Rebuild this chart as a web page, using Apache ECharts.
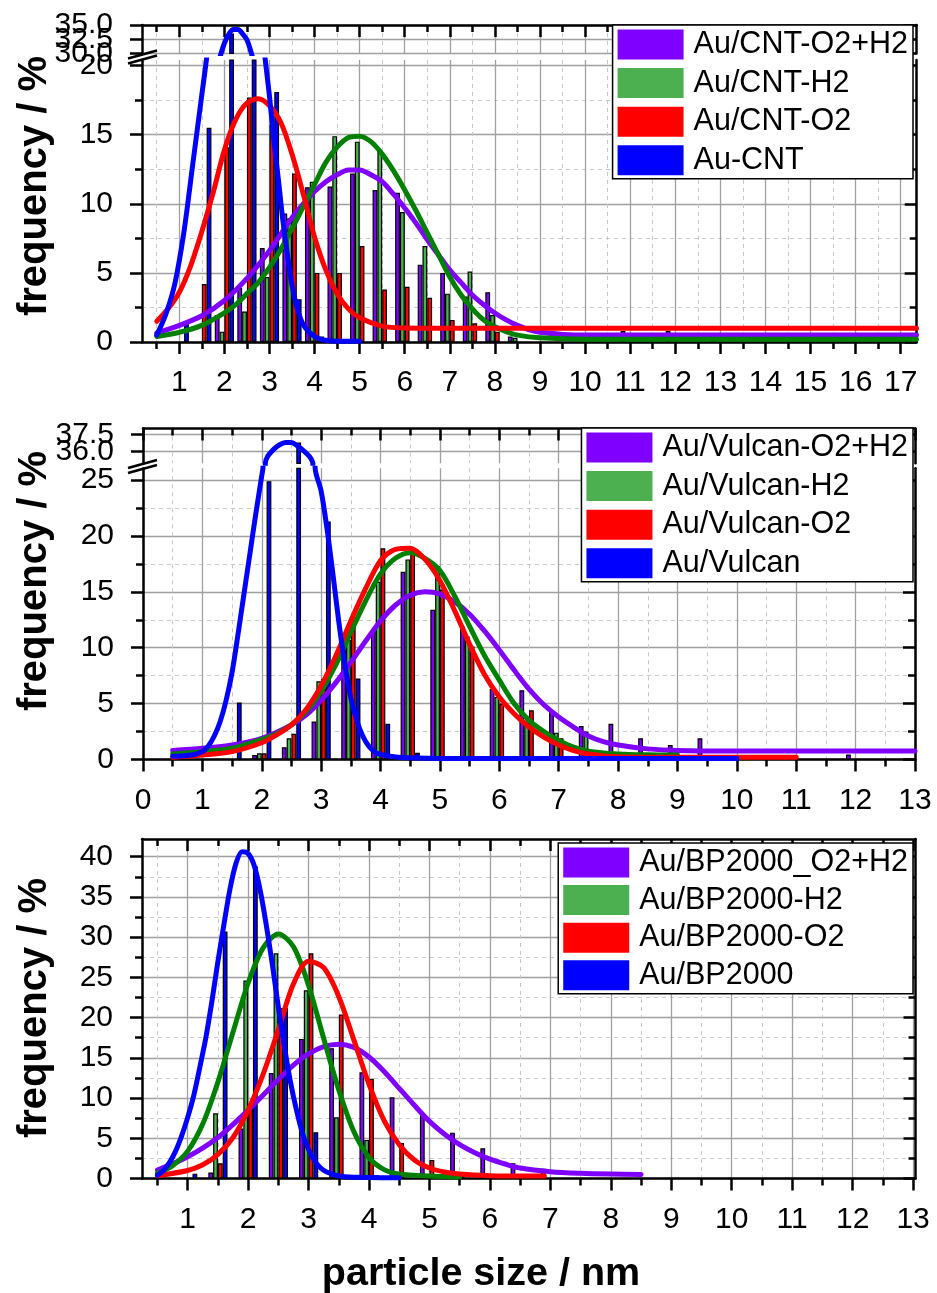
<!DOCTYPE html>
<html><head><meta charset="utf-8">
<script src="https://cdn.jsdelivr.net/npm/echarts@6/dist/echarts.min.js"></script>
<style>html,body{margin:0;padding:0;background:#fff}#c{width:937px;height:1293px}</style>
</head><body><div id="c"></div>
<script>
const FONT = "'Liberation Sans', Arial, sans-serif";
const C_PURPLE = '#7F00FF', C_GREEN_BAR = '#4CAF50', C_GREEN_LINE = '#008000', C_RED = '#FF0000', C_BLUE = '#0000FF';

// ---------------- DATA ----------------
// Panel 1 (CNT)
const namesTop = ['Au/CNT-O2+H2', 'Au/CNT-H2', 'Au/CNT-O2', 'Au-CNT'];
const binsTop = [1.0,1.5,2.0,2.5,3.0,3.5,4.0,4.5,5.0,5.5,6.0,6.5,7.0,7.5,8.0,8.5,9.0,9.5,10.0,10.5,11.0,11.5,12.0,12.5,13.0];
const purpleTopBars = [0,0,1.95,3.9,6.8,9.3,11.2,11.25,12.2,11.0,10.8,5.6,5.0,3.3,3.6,0.4,0,0,0,0,0.8,0,0.8,0,0.5];
const greenTopBars  = [0,0,0.75,2.2,4.7,8.95,11.6,14.9,14.5,13.9,9.4,6.95,3.5,5.1,1.95,0.3,0,0,0,0,0,0,0,0,0];
const redTopBars    = [0,4.2,14.1,17.7,15.7,12.2,5.0,5.0,6.95,3.8,4.0,3.2,1.6,1.35,0.75,0,0,0,0,0,0,0,0,0,0];
const blueTopBars   = [1.3,15.5,33.5,26,18.1,3.1,0.4,0,0,0,0,0,0,0,0,0,0,0,0,0,0,0,0,0,0];
const purpleTopFit = [[0.5,0.65],[1.0,1.2],[1.5,1.9],[2.0,3.0],[2.5,4.6],[3.0,6.6],[3.25,7.8],[3.5,9.0],[3.75,10.0],[4.0,10.9],[4.25,11.6],[4.5,12.1],[4.75,12.45],[5.0,12.45],[5.25,12.1],[5.5,11.6],[5.75,10.7],[6.0,9.7],[6.25,8.6],[6.5,7.4],[6.75,6.3],[7.0,5.2],[7.25,4.3],[7.5,3.4],[7.75,2.7],[8.0,2.1],[8.25,1.6],[8.5,1.2],[8.75,0.9],[9.0,0.7],[9.5,0.55],[10.0,0.5],[12.0,0.5],[14.0,0.5],[17.35,0.5]];
const greenTopFit  = [[0.5,0.4],[1.0,0.7],[1.5,1.2],[2.0,2.1],[2.25,2.7],[2.5,3.5],[2.75,4.3],[3.0,5.4],[3.25,6.7],[3.5,8.2],[3.75,9.8],[4.0,11.4],[4.25,13.0],[4.5,14.1],[4.75,14.8],[5.0,14.9],[5.25,14.5],[5.5,13.6],[5.75,12.4],[6.0,11.0],[6.25,9.5],[6.5,7.9],[6.75,6.3],[7.0,4.7],[7.25,3.4],[7.5,2.4],[7.75,1.6],[8.0,1.1],[8.25,0.75],[8.5,0.5],[9.0,0.3],[10.0,0.2],[12.0,0.2],[14.0,0.2],[17.35,0.2]];
const redTopFit    = [[0.5,1.5],[0.75,2.4],[1.0,3.6],[1.25,5.5],[1.5,8.0],[1.75,10.8],[2.0,13.9],[2.25,16.1],[2.5,17.3],[2.75,17.6],[3.0,17.1],[3.25,15.9],[3.5,13.6],[3.75,10.7],[4.0,7.6],[4.25,5.2],[4.5,3.5],[4.75,2.4],[5.0,1.75],[5.5,1.15],[6.0,1.02],[7.0,1.0],[9.0,1.0],[12.0,1.0],[17.35,1.0]];
const blueTopFit   = [[0.5,0.5],[0.7,2.0],[0.9,4.2],[1.1,7.9],[1.3,12.9],[1.5,17.9],[1.6,20.4],[1.7,23.5],[1.8,26.5],[1.9,29.3],[2.0,31.8],[2.1,33.4],[2.2,34.2],[2.3,34.2],[2.4,33.5],[2.5,32.4],[2.6,30.0],[2.7,27.0],[2.8,23.8],[2.9,20.6],[3.0,17.8],[3.1,14.5],[3.2,11.7],[3.3,8.7],[3.4,6.3],[3.5,4.1],[3.6,2.6],[3.7,1.6],[3.8,1.0],[4.0,0.4],[4.2,0.15],[4.6,0.05],[5.0,0.05]];
const xMajorTop = [1,2,3,4,5,6,7,8,9,10,11,12,13,14,15,16,17];
const xMinorTop = [0.5,1.5,2.5,3.5,4.5,5.5,6.5,7.5,8.5,9.5,10.5,11.5,12.5,13.5,14.5,15.5,16.5];
const yMajorTopLow = [0,5,10,15,20];
const yMinorTopLow = [2.5,7.5,12.5,17.5];
const yMajorTopUp = [30,32.5,35];

// Panel 2 (Vulcan)
const namesMid = ['Au/Vulcan-O2+H2', 'Au/Vulcan-H2', 'Au/Vulcan-O2', 'Au/Vulcan'];
const binsMid = [1.5,2.0,2.5,3.0,3.5,4.0,4.5,5.0,5.5,6.0,6.5,7.0,7.5,8.0,8.5,9.0,9.5,10.0,10.5,11.0,11.5,12.0];
const purpleMidBars = [0,0.4,1.1,3.4,10.7,11.5,16.8,13.4,11.9,6.3,6.2,4.4,3.0,3.2,1.9,1.3,1.9,0,0,0,0,0.45];
const greenMidBars  = [0,0.55,1.9,7.0,10.7,15.9,17.9,17.3,11.0,5.6,3.5,2.4,2.5,0.3,0,0,0,0,0,0,0,0];
const redMidBars    = [0,0.55,2.3,7.2,12.5,18.9,18.4,15.2,10.1,5.0,4.4,1.9,0,0,0,0,0,0,0,0,0,0];
const blueMidBars   = [5.1,24.9,36.8,21.3,7.25,3.2,0.6,0,0,0,0,0,0,0,0,0,0,0,0,0,0,0];
const purpleMidFit = [[0.5,0.8],[1.0,1.0],[1.5,1.3],[2.0,1.9],[2.5,3.1],[2.75,4.0],[3.0,5.3],[3.25,6.9],[3.5,8.7],[3.75,10.6],[4.0,12.4],[4.25,13.8],[4.5,14.7],[4.75,15.0],[5.0,14.8],[5.25,14.1],[5.5,13.0],[5.75,11.5],[6.0,9.8],[6.25,8.0],[6.5,6.3],[6.75,4.9],[7.0,3.8],[7.25,2.9],[7.5,2.1],[7.75,1.6],[8.0,1.3],[8.5,0.95],[9.0,0.8],[10.0,0.75],[11.5,0.75],[13.0,0.75]];
const greenMidFit  = [[0.5,0.5],[1.0,0.7],[1.5,1.0],[2.0,1.8],[2.25,2.3],[2.5,3.1],[2.75,4.3],[3.0,6.1],[3.25,8.5],[3.5,11.4],[3.75,14.2],[4.0,16.6],[4.25,18.0],[4.5,18.5],[4.75,18.0],[5.0,16.9],[5.25,14.6],[5.5,11.9],[5.75,9.3],[6.0,7.1],[6.25,5.0],[6.5,3.5],[6.75,2.5],[7.0,1.7],[7.25,1.1],[7.5,0.75],[8.0,0.5],[8.5,0.42],[9.0,0.4]];
const redMidFit    = [[0.5,0.2],[1.0,0.4],[1.5,0.7],[2.0,1.5],[2.25,2.2],[2.5,3.1],[2.75,4.5],[3.0,6.6],[3.25,9.3],[3.5,12.4],[3.75,15.3],[4.0,17.8],[4.25,18.8],[4.5,18.9],[4.75,17.9],[5.0,16.0],[5.25,13.3],[5.5,10.3],[5.75,7.6],[6.0,5.6],[6.25,4.1],[6.5,2.9],[6.75,2.0],[7.0,1.3],[7.25,0.8],[7.5,0.5],[8.0,0.25],[9.0,0.2],[10.0,0.2],[11.0,0.2]];
const blueMidFit   = [[0.5,0.3],[0.75,0.35],[1.0,0.7],[1.1,1.2],[1.2,2.1],[1.3,3.4],[1.4,5.3],[1.5,7.8],[1.6,11.2],[1.7,14.8],[1.8,18.4],[1.9,22.0],[2.0,25.4],[2.02,26.1],[2.06,35.0],[2.1,35.6],[2.2,36.2],[2.3,36.6],[2.4,36.8],[2.5,36.8],[2.6,36.5],[2.7,36.1],[2.8,35.6],[2.86,35.0],[2.9,26.0],[3.0,24.0],[3.1,20.6],[3.2,16.5],[3.3,12.2],[3.4,8.5],[3.5,5.5],[3.6,3.5],[3.7,2.1],[3.8,1.2],[3.9,0.7],[4.0,0.45],[4.3,0.2],[5.0,0.1],[7.5,0.1],[10.0,0.1]];
const xMajorMid = [0,1,2,3,4,5,6,7,8,9,10,11,12,13];
const xMinorMid = [0.5,1.5,2.5,3.5,4.5,5.5,6.5,7.5,8.5,9.5,10.5,11.5,12.5];
const yMajorMidLow = [0,5,10,15,20,25];
const yMinorMidLow = [2.5,7.5,12.5,17.5,22.5];
const yMajorMidUp = [36,37.5];

// Panel 3 (BP2000)
const namesBot = ['Au/BP2000_O2+H2', 'Au/BP2000-H2', 'Au/BP2000-O2', 'Au/BP2000'];
const binsBot = [1.0,1.5,2.0,2.5,3.0,3.5,4.0,4.5,5.0,5.5,6.0,6.5,7.0,7.5];
const purpleBotBars = [0,0.75,6.2,13.1,17.35,16.2,13.2,10.1,8.1,5.7,3.75,1.9,1.2,0];
const greenBotBars  = [0,8.1,24.6,28.0,23.4,7.6,4.8,0.3,0,0,0,0,0,0];
const redBotBars    = [0,1.9,8.9,21.2,28.0,20.4,12.4,4.4,2.3,0.3,0,0,0,0];
const blueBotBars   = [0.6,30.7,38.8,21.2,5.75,0,0.4,0,0,0,0,0,0,0];
const purpleBotFit = [[0.5,1.06],[1.0,2.7],[1.5,5.1],[2.0,8.5],[2.5,12.3],[2.75,14.1],[3.0,15.5],[3.25,16.4],[3.5,16.7],[3.75,16.3],[4.0,15.1],[4.25,13.3],[4.5,11.2],[4.75,9.1],[5.0,7.1],[5.25,5.5],[5.5,4.2],[5.75,3.2],[6.0,2.4],[6.25,1.8],[6.5,1.3],[7.0,0.85],[7.5,0.65],[8.0,0.55],[8.5,0.5]];
const greenBotFit  = [[0.5,0.65],[0.75,1.6],[1.0,3.4],[1.25,6.8],[1.5,12.0],[1.75,18.2],[2.0,24.3],[2.25,28.7],[2.5,30.4],[2.75,28.8],[3.0,24.0],[3.25,17.4],[3.5,11.0],[3.75,5.8],[4.0,2.6],[4.25,1.1],[4.5,0.55],[5.0,0.3],[5.5,0.2]];
const redBotFit    = [[0.5,0.35],[1.0,1.0],[1.25,1.7],[1.5,3.0],[1.75,5.1],[2.0,8.5],[2.25,13.0],[2.5,18.5],[2.75,24.2],[3.0,27.0],[3.25,26.2],[3.5,22.6],[3.75,17.2],[4.0,11.7],[4.25,7.2],[4.5,4.2],[4.75,2.3],[5.0,1.3],[5.25,0.8],[5.5,0.55],[6.0,0.35],[6.5,0.3],[6.9,0.3]];
const blueBotFit   = [[0.5,0.4],[0.6,1.0],[0.7,2.0],[0.8,3.4],[0.9,5.3],[1.0,7.6],[1.1,10.3],[1.2,13.8],[1.3,17.5],[1.4,22.0],[1.5,27.0],[1.6,31.6],[1.7,36.0],[1.8,39.2],[1.9,40.6],[2.0,40.4],[2.1,38.9],[2.2,35.8],[2.3,31.5],[2.4,26.6],[2.5,21.3],[2.6,16.4],[2.7,12.0],[2.8,8.5],[2.9,5.6],[3.0,3.6],[3.1,2.2],[3.2,1.3],[3.3,0.8],[3.5,0.3],[3.8,0.15],[4.2,0.1],[4.5,0.1]];
const xMajorBot = [1,2,3,4,5,6,7,8,9,10,11,12,13];
const xMinorBot = [0.5,1.5,2.5,3.5,4.5,5.5,6.5,7.5,8.5,9.5,10.5,11.5,12.5];
const yMajorBot = [0,5,10,15,20,25,30,35,40];
const yMinorBot = [2.5,7.5,12.5,17.5,22.5,27.5,32.5,37.5];

const yTitle = 'frequency / %';
const xTitle = 'particle size / nm';

// ---------------- LAYOUT ----------------
const grid = [
  {left: 142, right: 20.3, top: 25, height: 28.5},     // 0 top upper
  {left: 142, right: 20.3, top: 60, height: 282},      // 1 top lower
  {left: 143, right: 22, top: 428.5, height: 34.8},    // 2 mid upper
  {left: 143, right: 22, top: 468.3, height: 291.2},   // 3 mid lower
  {left: 142, right: 21.5, top: 839, height: 339.5}    // 4 bottom
];

const xAxis = [], yAxis = [];
const AX_W = 2.5;
function buildAxes(list, dim, gi, min, max, major, minor, o) {
  const near = dim === 'x' ? 'bottom' : 'left';
  const far = dim === 'x' ? 'top' : 'right';
  const common = {type: 'value', gridIndex: gi, min: min, max: max, silent: true};
  const line = s => ({show: s, onZero: false, lineStyle: {color: '#000', width: AX_W}});
  const tick = (s, inside, len, vals) => ({show: s, inside: inside, length: len, customValues: vals, lineStyle: {color: '#000', width: AX_W}});
  const lbl = (s, vals) => ({show: s, customValues: vals, formatter: o.fmt, margin: o.margin || 29,
      fontSize: 30, color: '#000', fontFamily: FONT, hideOverlap: false, showMinLabel: true, showMaxLabel: true});
  const first = list.length;
  list.push(Object.assign({}, common, {
    position: near,
    axisLine: line(o.near),
    axisTick: tick(o.near, false, 12, major),
    axisLabel: lbl(!!o.labels && !o.splitLabels, major),
    splitLine: {show: true, lineStyle: {color: '#A0A0A0', width: 1.3}}
  }));
  if (o.splitLabels) {
    // one label-only axis per value so that crowded labels are all kept
    major.forEach(v => list.push(Object.assign({}, common, {
      position: near, axisLine: line(false), axisTick: {show: false, customValues: [v]},
      axisLabel: lbl(true, [v]), splitLine: {show: false}
    })));
  }
  if (minor) list.push(Object.assign({}, common, {
    position: near,
    axisLine: line(false),
    axisTick: tick(o.near, false, 7, minor),
    axisLabel: {show: false, customValues: minor},
    splitLine: {show: true, lineStyle: {color: '#C8C8C8', width: 1, type: [4, 4]}}
  }));
  list.push(Object.assign({}, common, {
    position: far,
    axisLine: line(o.far),
    axisTick: tick(o.far, true, 12, major),
    axisLabel: {show: false, customValues: major},
    splitLine: {show: false}
  }));
  if (minor) list.push(Object.assign({}, common, {
    position: far,
    axisLine: line(false),
    axisTick: tick(o.far, true, 7, minor),
    axisLabel: {show: false, customValues: minor},
    splitLine: {show: false}
  }));
  return first;
}
const fmt1 = v => Number(v).toFixed(1);
const fmt0 = v => String(v);

const ax = [];
ax[0] = {x: buildAxes(xAxis, 'x', 0, 0.173, 17.354, xMajorTop, xMinorTop, {near: false, far: true}),
         y: buildAxes(yAxis, 'y', 0, 30, 35, yMajorTopUp, null, {near: true, far: true, labels: true, splitLabels: true, fmt: fmt1})};
ax[1] = {x: buildAxes(xAxis, 'x', 1, 0.173, 17.354, xMajorTop, xMinorTop, {near: true, far: false, labels: true, fmt: fmt0, margin: 26}),
         y: buildAxes(yAxis, 'y', 1, 0, 20.41, yMajorTopLow, yMinorTopLow, {near: true, far: true, labels: true, fmt: fmt0})};
ax[2] = {x: buildAxes(xAxis, 'x', 2, 0, 13, xMajorMid, xMinorMid, {near: false, far: true}),
         y: buildAxes(yAxis, 'y', 2, 35, 38, yMajorMidUp, null, {near: true, far: true, labels: true, splitLabels: true, fmt: fmt1})};
ax[3] = {x: buildAxes(xAxis, 'x', 3, 0, 13, xMajorMid, xMinorMid, {near: true, far: false, labels: true, fmt: fmt0, margin: 26}),
         y: buildAxes(yAxis, 'y', 3, 0, 26.05, yMajorMidLow, yMinorMidLow, {near: true, far: true, labels: true, fmt: fmt0})};
ax[4] = {x: buildAxes(xAxis, 'x', 4, 0.244, 13.04, xMajorBot, xMinorBot, {near: true, far: true, labels: true, fmt: fmt0, margin: 26}),
         y: buildAxes(yAxis, 'y', 4, 0, 42.2, yMajorBot, yMinorBot, {near: true, far: true, labels: true, fmt: fmt0})};

const barColors = [C_PURPLE, C_GREEN_BAR, C_RED, C_BLUE];
const lineColors = [C_PURPLE, C_GREEN_LINE, C_RED, C_BLUE];
const series = [];
function addPanel(gridList, names, bins, bars, fits) {
  gridList.forEach(g => {
    for (let k = 0; k < 4; k++) {
      series.push({
        type: 'bar', name: names[k], xAxisIndex: ax[g].x, yAxisIndex: ax[g].y,
        data: bins.map((b, i) => [b, bars[k][i] > 0 ? bars[k][i] : null]),
        barWidth: 4.8, barGap: '0%', z: 2, silent: true,
        itemStyle: {color: barColors[k], borderColor: '#000', borderWidth: 1.2}
      });
    }
    for (let k = 0; k < 4; k++) {
      series.push({
        type: 'line', name: names[k] + ' fit', xAxisIndex: ax[g].x, yAxisIndex: ax[g].y,
        data: fits[k], showSymbol: false, smooth: 0.3, z: 5, silent: true,
        lineStyle: {color: lineColors[k], width: 5, cap: 'round', join: 'round'}, itemStyle: {color: lineColors[k]}
      });
    }
  });
}
addPanel([1, 0], namesTop, binsTop, [purpleTopBars, greenTopBars, redTopBars, blueTopBars], [purpleTopFit, greenTopFit, redTopFit, blueTopFit]);
addPanel([3, 2], namesMid, binsMid, [purpleMidBars, greenMidBars, redMidBars, blueMidBars], [purpleMidFit, greenMidFit, redMidFit, blueMidFit]);
addPanel([4], namesBot, binsBot, [purpleBotBars, greenBotBars, redBotBars, blueBotBars], [purpleBotFit, greenBotFit, redBotFit, blueBotFit]);

function legend(names, top, gap) {
  return {
    data: names.map((n, k) => ({name: n, icon: 'rect', itemStyle: {color: barColors[k], borderWidth: 0}})),
    orient: 'vertical', right: 24, top: top, itemWidth: 66, itemHeight: 30, itemGap: gap,
    padding: [4, 5, 3, 5], borderColor: '#000', borderWidth: 1.5, backgroundColor: '#fff',
    textStyle: {fontSize: 30.5, lineHeight: 30, color: '#000', fontFamily: FONT, padding: [0, 0, 0, 5]},
    selectedMode: false, z: 10
  };
}

const breakMark = (y) => [
  {type: 'line', shape: {x1: 128, y1: y + 2, x2: 157, y2: y - 6}, style: {stroke: '#000', lineWidth: 2.5}, z: 20},
  {type: 'line', shape: {x1: 128, y1: y + 7, x2: 157, y2: y - 1}, style: {stroke: '#000', lineWidth: 2.5}, z: 20}
];
const yTitleEl = (y) => ({type: 'text', x: 35, y: y, rotation: Math.PI / 2,
  style: {text: yTitle, font: "bold 40px 'Liberation Sans', Arial, sans-serif", fill: '#000', textAlign: 'center', textVerticalAlign: 'middle'}, z: 20});

const option = {
  animation: false,
  backgroundColor: '#fff',
  grid: grid,
  xAxis: xAxis,
  yAxis: yAxis,
  legend: [legend(namesTop, 25, 7.6), legend(namesMid, 428, 7.6), legend(namesBot, 843, 6.6)],
  series: series,
  graphic: [].concat(
    breakMark(56.5), breakMark(466),
    [yTitleEl(186), yTitleEl(581), yTitleEl(1008),
     {type: 'text', x: 481, y: 1274, style: {text: xTitle, font: "bold 39.5px 'Liberation Sans', Arial, sans-serif", fill: '#000', textAlign: 'center', textVerticalAlign: 'middle'}, z: 20}]
  )
};
const chart = echarts.init(document.getElementById('c'), null, {renderer: 'canvas'});
chart.setOption(option);
</script></body></html>
